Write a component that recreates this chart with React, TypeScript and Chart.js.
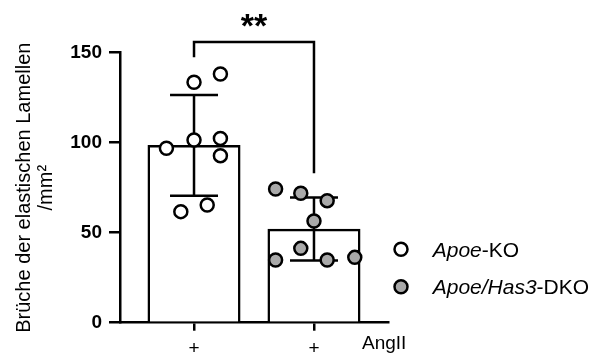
import React, { useEffect, useRef } from 'react';
import { Chart, registerables } from 'chart.js';

Chart.register(...registerables);

// Group positions on the x axis (0 = Apoe-KO, 1 = Apoe/Has3-DKO)
const groupLabels = ['Apoe-KO', 'Apoe/Has3-DKO'];
const groupPos = [0, 1];

// Bar heights (mean) and error bars (SD)
const barMeans = [98.5, 52];
const barSD = [28, 17.5];

// Individual animals
const koValues = [133.6, 138.2, 101.5, 96.9, 102.4, 92.8, 61.7, 65.4];
const koOffsets = [0, 0.22, 0, -0.23, 0.22, 0.22, -0.11, 0.11];
const dkoValues = [74.3, 71.9, 67.8, 56.5, 41.3, 34.8, 34.8, 36.3];
const dkoOffsets = [-0.32, -0.11, 0.11, 0, -0.11, -0.32, 0.11, 0.34];

// Axis text
const yTickValues = [0, 50, 100, 150];
const xTickLabels = ['+', '+'];
const xAxisLabel = 'AngII';
const yTitle = ['Brüche der elastischen Lamellen', '/mm²'];

// Significance bracket between the two groups
const sigLabel = '**';
const bracketTop = 156;
const bracketLeftFoot = 147.5;
const bracketRightFoot = 83;
const sigTextValue = 158.5;

const FONT = '"Liberation Sans", Arial, Helvetica, sans-serif';
const WHITE = '#ffffff';
const GREY = '#a9a9a9';
const INK = '#000000';
const LW = 2.5;
const BAR_WIDTH = 0.77; // in x-axis units

const errorBarsPlugin = {
  id: 'errorBars',
  afterDatasetDraw(chart: any, args: any) {
    const ds = chart.data.datasets[args.index];
    if (ds.type !== 'bar') return;
    const { ctx } = chart;
    const xs = chart.scales.x;
    const ys = chart.scales.y;
    const capHalf = 0.2;
    ctx.save();
    ctx.strokeStyle = INK;
    ctx.lineWidth = LW;
    ctx.lineCap = 'butt';
    barMeans.forEach((m, i) => {
      const x = xs.getPixelForValue(groupPos[i]);
      const x0 = xs.getPixelForValue(groupPos[i] - capHalf);
      const x1 = xs.getPixelForValue(groupPos[i] + capHalf);
      const yHi = ys.getPixelForValue(m + barSD[i]);
      const yLo = ys.getPixelForValue(m - barSD[i]);
      ctx.beginPath();
      ctx.moveTo(x, yHi);
      ctx.lineTo(x, yLo);
      ctx.moveTo(x0, yHi);
      ctx.lineTo(x1, yHi);
      ctx.moveTo(x0, yLo);
      ctx.lineTo(x1, yLo);
      ctx.stroke();
    });
    ctx.restore();
  },
};

const annotationsPlugin = {
  id: 'annotations',
  afterDraw(chart: any) {
    const { ctx, chartArea } = chart;
    const xs = chart.scales.x;
    const ys = chart.scales.y;
    ctx.save();

    // significance bracket
    const xl = xs.getPixelForValue(groupPos[0]);
    const xr = xs.getPixelForValue(groupPos[1]);
    const yt = ys.getPixelForValue(bracketTop);
    ctx.strokeStyle = INK;
    ctx.lineWidth = LW;
    ctx.lineJoin = 'miter';
    ctx.beginPath();
    ctx.moveTo(xl, ys.getPixelForValue(bracketLeftFoot));
    ctx.lineTo(xl, yt);
    ctx.lineTo(xr, yt);
    ctx.lineTo(xr, ys.getPixelForValue(bracketRightFoot));
    ctx.stroke();
    ctx.fillStyle = INK;
    ctx.font = `bold 34px ${FONT}`;
    ctx.textAlign = 'center';
    ctx.textBaseline = 'alphabetic';
    ctx.fillText(sigLabel, (xl + xr) / 2, ys.getPixelForValue(sigTextValue));

    // y axis title, rotated
    const cy = (chartArea.top + chartArea.bottom) / 2;
    ctx.font = `20px ${FONT}`;
    const baselines = [30, 52];
    yTitle.forEach((line, i) => {
      ctx.save();
      ctx.translate(baselines[i], cy);
      ctx.rotate(-Math.PI / 2);
      ctx.textAlign = 'center';
      ctx.textBaseline = 'alphabetic';
      ctx.fillText(line, 0, 0);
      ctx.restore();
    });

    // treatment label at the end of the x axis
    ctx.font = `19px ${FONT}`;
    ctx.textAlign = 'left';
    ctx.fillText(xAxisLabel, chartArea.right - 26, 349);

    // legend
    const fills = [WHITE, GREY];
    const rows = [249.3, 286.7];
    const mx = chartArea.right + 13;
    const tx = chartArea.right + 44.7;
    groupLabels.forEach((label, i) => {
      ctx.beginPath();
      ctx.arc(mx, rows[i], 6.5, 0, Math.PI * 2);
      ctx.fillStyle = fills[i];
      ctx.fill();
      ctx.lineWidth = LW;
      ctx.strokeStyle = INK;
      ctx.stroke();
      const cut = label.lastIndexOf('-');
      const italicPart = label.slice(0, cut);
      const plainPart = label.slice(cut);
      ctx.fillStyle = INK;
      ctx.textBaseline = 'alphabetic';
      ctx.textAlign = 'left';
      ctx.font = `italic 21px ${FONT}`;
      ctx.fillText(italicPart, tx, rows[i] + 7.5);
      const w = ctx.measureText(italicPart).width;
      ctx.font = `21px ${FONT}`;
      ctx.fillText(plainPart, tx + w, rows[i] + 7.5);
    });

    ctx.restore();
  },
};

export default function App() {
  const canvasRef = useRef<HTMLCanvasElement | null>(null);

  useEffect(() => {
    document.body.style.margin = '0';
    const canvas = canvasRef.current;
    if (!canvas) return;

    const pointStyle = {
      type: 'scatter' as const,
      pointRadius: 6.5,
      pointHoverRadius: 6.5,
      pointBorderWidth: LW,
      borderColor: INK,
      showLine: false,
      order: 1,
    };

    const chart = new Chart(canvas, {
      type: 'bar',
      data: {
        datasets: [
          {
            ...pointStyle,
            label: groupLabels[0],
            backgroundColor: WHITE,
            pointBackgroundColor: WHITE,
            data: koValues.map((v, i) => ({ x: groupPos[0] + koOffsets[i], y: v })),
          } as any,
          {
            ...pointStyle,
            label: groupLabels[1],
            backgroundColor: GREY,
            pointBackgroundColor: GREY,
            data: dkoValues.map((v, i) => ({ x: groupPos[1] + dkoOffsets[i], y: v })),
          } as any,
          {
            type: 'bar',
            label: 'mean',
            data: barMeans.map((m, i) => ({ x: groupPos[i], y: m })),
            backgroundColor: WHITE,
            borderColor: INK,
            borderWidth: LW,
            borderSkipped: 'bottom',
            barThickness: 'flex',
            order: 2,
          } as any,
        ],
      },
      options: {
        responsive: false,
        animation: false,
        devicePixelRatio: 1,
        events: [],
        layout: { padding: { top: 52.7, right: 211, left: 0, bottom: 0 } },
        plugins: {
          legend: { display: false },
          tooltip: { enabled: false },
        },
        scales: {
          x: {
            type: 'linear',
            min: -0.617,
            max: 1.617,
            offset: false,
            afterBuildTicks: (scale: any) => {
              scale.ticks = groupPos.map((v) => ({ value: v }));
            },
            afterFit: (scale: any) => {
              scale.height = 31.3;
            },
            ticks: {
              callback: (_v: any, i: number) => xTickLabels[i],
              font: { family: FONT, size: 19 },
              color: INK,
              padding: 7,
              maxRotation: 0,
              autoSkip: false,
            },
            grid: {
              display: true,
              offset: false,
              drawOnChartArea: false,
              drawTicks: true,
              tickLength: 8,
              lineWidth: LW,
              color: INK,
            },
            border: { display: true, width: LW, color: INK },
          },
          y: {
            type: 'linear',
            min: 0,
            max: 150,
            afterBuildTicks: (scale: any) => {
              scale.ticks = yTickValues.map((v) => ({ value: v }));
            },
            afterFit: (scale: any) => {
              scale.width = 120;
            },
            ticks: {
              font: { family: FONT, size: 19, weight: 'bold' },
              color: INK,
              padding: 7,
            },
            grid: {
              display: true,
              drawOnChartArea: false,
              drawTicks: true,
              tickLength: 11,
              lineWidth: LW,
              color: INK,
            },
            border: { display: true, width: LW, color: INK },
          },
        },
      } as any,
      plugins: [
        {
          // bar width follows the x scale: BAR_WIDTH axis units
          id: 'barWidth',
          beforeDatasetsDraw(chart: any) {
            const xs = chart.scales.x;
            const meta = chart.getDatasetMeta(2);
            meta.data.forEach((bar: any, i: number) => {
              const l = xs.getPixelForValue(groupPos[i] - BAR_WIDTH / 2);
              const r = xs.getPixelForValue(groupPos[i] + BAR_WIDTH / 2);
              bar.x = (l + r) / 2;
              bar.width = r - l;
            });
          },
        },
        errorBarsPlugin,
        annotationsPlugin,
      ],
    });

    return () => chart.destroy();
  }, []);

  return (
    <div style={{ width: 599, height: 354, background: '#ffffff' }}>
      <canvas ref={canvasRef} width={599} height={354} />
    </div>
  );
}
